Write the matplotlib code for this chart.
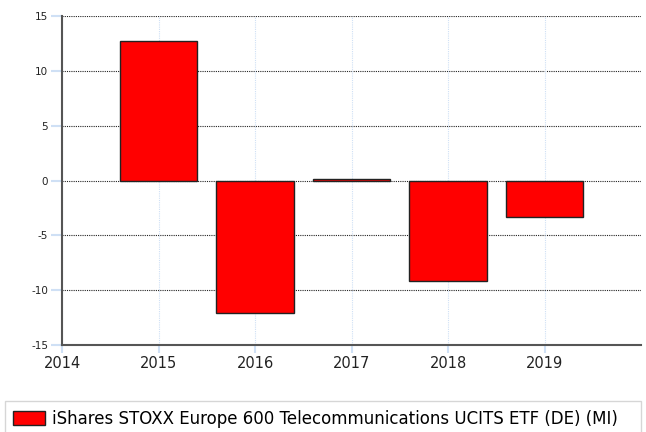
import matplotlib
matplotlib.use("Agg")
import matplotlib.pyplot as plt

years = [2015, 2016, 2017, 2018, 2019]
returns = [12.7, -12.1, 0.12, -9.2, -3.3]
series_name = "iShares STOXX Europe 600 Telecommunications UCITS ETF (DE) (MI)"
yticks = [-15, -10, -5, 0, 5, 10, 15]
xticks = [2014, 2015, 2016, 2017, 2018, 2019]

plt.rcParams['font.family'] = ['DejaVu Sans']

fig = plt.figure(figsize=(6.46, 4.32), dpi=100)
ax = fig.add_axes([62/646, 1 - 345/432, 579/646, 329/432])

ax.bar(years, returns, width=0.8, color='#ff0000', edgecolor='#222222',
       linewidth=1.0, label=series_name, zorder=3)

ax.set_xlim(2014, 2020)
ax.set_ylim(-15, 15)
ax.set_yticks(yticks)
ax.set_xticks(xticks)
ax.set_yticklabels([str(v) for v in yticks], fontsize=7.5, color='#222222')
ax.set_xticklabels([str(v) for v in xticks], fontsize=10.5, color='#222222')

for y in yticks:
    ax.axhline(y, color='#222222', linestyle=(0, (1, 1)), linewidth=0.8, zorder=1)
ax.grid(axis='x', color='#cfe0f5', linestyle=(0, (1, 1)), linewidth=0.8, zorder=0)

ax.tick_params(axis='y', length=8, color='#cfe0f5', width=1.5, pad=2)
ax.tick_params(axis='x', length=6, color='#cfe0f5', width=1.5, pad=2)

for s in ['top', 'right']:
    ax.spines[s].set_visible(False)
for s in ['left', 'bottom']:
    ax.spines[s].set_color('#555555')
    ax.spines[s].set_linewidth(1.5)

leg = fig.legend(loc='lower left', bbox_to_anchor=(5/646, -4/432, 636/646, 40/432),
                 mode='expand', fontsize=12, frameon=True, fancybox=False,
                 handlelength=1.9, handleheight=0.9, handletextpad=0.4,
                 borderaxespad=0, borderpad=0.5)
leg.get_frame().set_edgecolor('#cccccc')
leg.get_frame().set_linewidth(1.0)

fig.savefig("out.png", dpi=100)
